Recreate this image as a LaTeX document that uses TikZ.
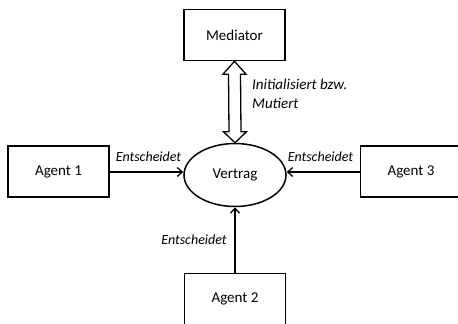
\documentclass[tikz,border=0pt]{standalone}
\usepackage{fontspec}
\setmainfont{Carlito}
\usetikzlibrary{arrows.meta,shapes.geometric,calc}
\begin{document}
\begin{tikzpicture}[x=1pt,y=-1pt,
  box/.style={draw,line width=1.5pt,minimum width=101pt,minimum height=51pt,inner sep=0pt,font=\fontsize{15}{18}\selectfont},
  lbl/.style={font=\fontsize{14}{17}\selectfont\itshape,inner sep=0pt},
  arr/.style={line width=1.5pt,-{Straight Barb[length=5pt,width=9pt,line width=1.3pt]}}]
\useasboundingbox (0,0) rectangle (458,324);
\node[box] (med) at (234.5,35) {Mediator};
\node[box] (a1) at (58.5,171.5) {Agent 1};
\node[box] (a3) at (411,171.5) {Agent 3};
\node[box] (a2) at (235,299) {Agent 2};
\node[draw,ellipse,line width=1.5pt,minimum width=102pt,minimum height=63pt,inner sep=0pt,font=\fontsize{15}{18}\selectfont] (v) at (235,175) {Vertrag};
\draw[arr] (a1.east |- 0,172) -- (v.west |- 0,172);
\draw[arr] (a3.west |- 0,172) -- (v.east |- 0,172);
\draw[arr] (a2.north) -- (v.south);
\coordinate (t) at (med.south);
\coordinate (b) at (v.north);
\draw[line width=1.3pt,fill=white,line join=miter]
  (t) -- ++(11.5,13) -- ++(-5.5,0) -- ($(b)+(6,-11)$) -- ++(5.5,0) -- (b) -- ++(-11.5,-11) -- ++(5.5,0) -- ($(t)+(-6,13)$) -- ++(-5.5,0) -- cycle;
\node[lbl,anchor=center] (l1) at (148.5,157) {Entscheidet};
\node[lbl,anchor=center] (l3) at (320.5,157) {Entscheidet};
\node[lbl,anchor=center] (l2) at (194,240) {Entscheidet};
\node[lbl,anchor=north west,align=left,font=\fontsize{15}{19}\selectfont\itshape] (l4) at (252,79) {Initialisiert bzw.\\Mutiert};
\end{tikzpicture}
\end{document}
